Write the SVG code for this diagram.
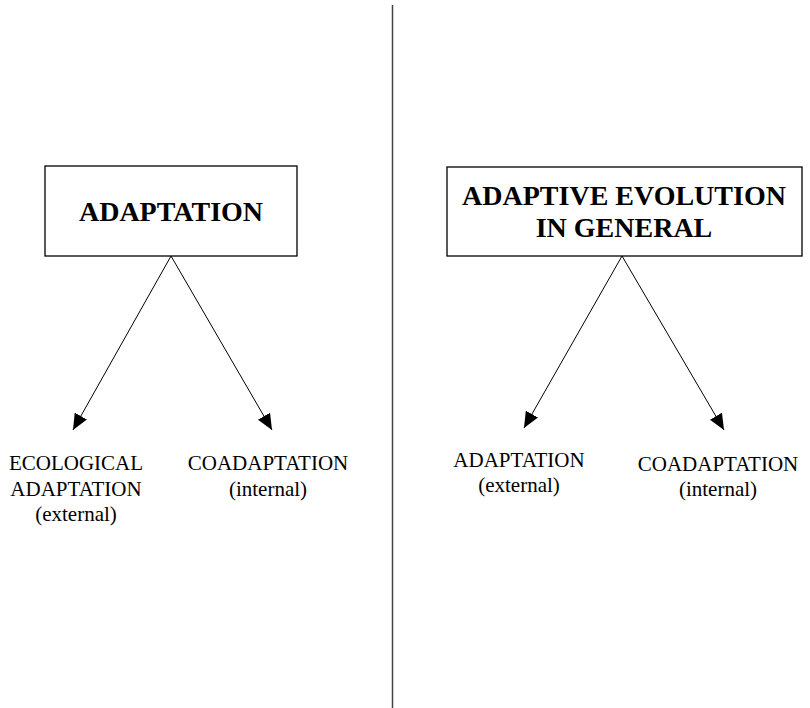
<svg xmlns="http://www.w3.org/2000/svg" width="810" height="708" viewBox="0 0 810 708">
  <style>
    .box { fill: #ffffff; stroke: #000000; stroke-width: 1.3; }
    .title { font-family: 'Liberation Serif', 'Times New Roman', Times, 'DejaVu Serif', serif; font-weight: bold; font-size: 28px; text-anchor: middle; fill: #000000; }
    .leaf { font-family: 'Liberation Serif', 'Times New Roman', Times, 'DejaVu Serif', serif; font-size: 21px; text-anchor: middle; fill: #000000; }
    .edge { stroke: #000000; stroke-width: 1; fill: none; marker-end: url(#arrow); }
    .divider { stroke: #444444; stroke-width: 1.5; }
  </style>
  <defs>
    <marker id="arrow" viewBox="0 0 16 14" refX="16" refY="7" markerWidth="16" markerHeight="14" markerUnits="userSpaceOnUse" orient="auto">
      <path d="M0,0 L16,7 L0,14 Z" fill="#000000"/>
    </marker>
  </defs>
  <rect width="810" height="708" fill="#ffffff"/>

  <!-- column divider -->
  <line class="divider" x1="392.5" y1="5" x2="392.5" y2="708"/>

  <g font-family="Liberation Serif, Times New Roman, serif">
    <!-- left column -->
    <g id="adaptation">
      <rect class="box" x="45" y="166" width="252" height="90"/>
      <text class="title" x="171" y="221">ADAPTATION</text>
    </g>
    <g id="ecological-adaptation">
      <text class="leaf" x="76" y="470">ECOLOGICAL</text>
      <text class="leaf" x="76" y="496">ADAPTATION</text>
      <text class="leaf" x="76" y="521">(external)</text>
    </g>
    <g id="coadaptation-left">
      <text class="leaf" x="268" y="470">COADAPTATION</text>
      <text class="leaf" x="268" y="496">(internal)</text>
    </g>

    <!-- right column -->
    <g id="adaptive-evolution">
      <rect class="box" x="447" y="167" width="355" height="89"/>
      <text class="title" x="624" y="205">ADAPTIVE EVOLUTION</text>
      <text class="title" x="624" y="237">IN GENERAL</text>
    </g>
    <g id="adaptation-right">
      <text class="leaf" x="519" y="467">ADAPTATION</text>
      <text class="leaf" x="519" y="492">(external)</text>
    </g>
    <g id="coadaptation-right">
      <text class="leaf" x="718" y="471">COADAPTATION</text>
      <text class="leaf" x="718" y="496">(internal)</text>
    </g>
  </g>

  <!-- connectors -->
  <g id="connectors">
    <line class="edge" x1="171" y1="256" x2="73" y2="430"/>
    <line class="edge" x1="171" y1="256" x2="272" y2="430"/>
    <line class="edge" x1="622" y1="256" x2="524" y2="428"/>
    <line class="edge" x1="622" y1="256" x2="724" y2="430"/>
  </g>
</svg>
